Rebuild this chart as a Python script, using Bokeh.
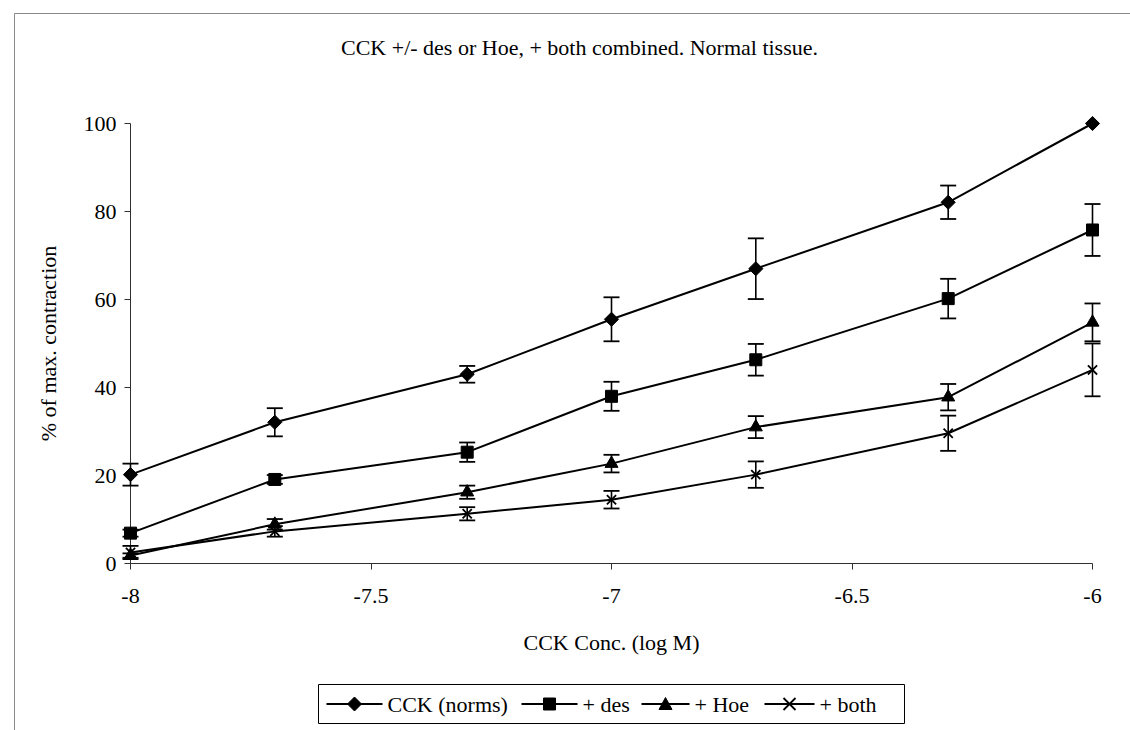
import numpy as np
from bokeh.plotting import figure
from bokeh.models import Range1d, FixedTicker, CustomJSTickFormatter
from bokeh.core.properties import value
from bokeh.embed import file_html
from bokeh.resources import INLINE

# ---- data ----
log_conc = [-8, -7.7, -7.3, -7, -6.7, -6.3, -6]
cck = [20.2, 32.1, 43.0, 55.5, 67.0, 82.1, 100.0]
cck_err = [2.5, 3.2, 1.9, 5.0, 6.9, 3.8, 0.0]
des = [6.9, 19.1, 25.3, 38.0, 46.3, 60.2, 75.8]
des_err = [0.8, 1.0, 2.2, 3.3, 3.6, 4.5, 5.9]
hoe = [1.8, 8.9, 16.2, 22.7, 31.0, 37.8, 54.8]
hoe_err = [0.5, 1.2, 1.5, 2.0, 2.5, 3.0, 4.3]
both = [2.5, 7.3, 11.3, 14.5, 20.2, 29.6, 44.0]
both_err = [1.5, 1.2, 1.5, 2.0, 3.0, 4.0, 6.0]

series_names = ["CCK (norms)", "+ des", "+ Hoe", "+ both"]
x_ticks = [-8, -7.5, -7, -6.5, -6]
y_ticks = [0, 20, 40, 60, 80, 100]

title_text = "CCK +/- des or Hoe, + both combined. Normal tissue."
x_label = "CCK Conc. (log M)"
y_label = "% of max. contraction"

FONT = "Liberation Serif"
FS = "22px"

# frame placement on the 1130x730 canvas
FL, FR, FT, FB = 130, 1092, 123, 563

p = figure(width=1130, height=730, output_backend="svg", toolbar_location=None,
           x_range=Range1d(-8, -6), y_range=Range1d(0, 100),
           min_border_left=FL, min_border_right=1130 - FR, min_border_top=FT,
           min_border_bottom=730 - FB, title=None)
p.outline_line_color = None
p.grid.visible = False
p.background_fill_color = "white"
p.border_fill_color = "white"

# pixel coordinate system (canvas pixels, y downward) for decorations outside the frame
p.extra_x_ranges = {"px": Range1d(FL, FR)}
p.extra_y_ranges = {"py": Range1d(FB, FT)}

for ax in (p.xaxis[0], p.yaxis[0]):
    ax.axis_line_color = "#303030"
    ax.axis_line_width = 1
    ax.major_tick_line_color = "#303030"
    ax.major_tick_out = 6
    ax.major_tick_in = 0
    ax.minor_tick_line_color = None
    ax.major_label_text_font = FONT
    ax.major_label_text_font_size = FS
    ax.major_label_text_color = "black"
    ax.axis_label_text_font = FONT
    ax.axis_label_text_font_size = FS
    ax.axis_label_text_font_style = "normal"
    ax.axis_label_text_color = "black"

p.xaxis.ticker = FixedTicker(ticks=x_ticks)
p.yaxis.ticker = FixedTicker(ticks=y_ticks)
p.xaxis.formatter = CustomJSTickFormatter(code="return tick.toString()")
p.yaxis.formatter = CustomJSTickFormatter(code="return tick.toString()")
p.xaxis.major_label_standoff = 19
p.yaxis.major_label_standoff = 8
p.xaxis.axis_label = x_label
p.yaxis.axis_label = y_label
p.xaxis.axis_label_standoff = 24
p.yaxis.axis_label_standoff = 20

markers = ["square", "square", "triangle", "x"]
angles = [np.pi / 4, 0, 0, 0]
sizes = [10, 12, 13, 13]
vals = [cck, des, hoe, both]
errs = [cck_err, des_err, hoe_err, both_err]

for name, mk, ang, sz, v, e in zip(series_names, markers, angles, sizes, vals, errs):
    # error bars
    ex, lo, hi = [], [], []
    for xi, yi, ei in zip(log_conc, v, e):
        if ei > 0:
            ex.append(xi); lo.append(yi - ei); hi.append(yi + ei)
    p.segment(x0=ex, y0=lo, x1=ex, y1=hi, line_color="black", line_width=1.6, level="overlay")
    p.scatter(x=ex + ex, y=lo + hi, marker="dash", size=16, line_color="black",
              line_width=1.8, level="overlay")
    # series line and markers
    p.line(log_conc, v, line_color="black", line_width=2, level="overlay")
    p.scatter(log_conc, v, marker=mk, angle=ang, size=sz, fill_color="black",
              line_color="black", line_width=1.8 if mk == "x" else 1, level="overlay")

PX = dict(x_range_name="px", y_range_name="py", level="overlay")

# ---- title (canvas pixels) ----
p.text(x=[579], y=[47], text=[title_text], text_font=value(FONT), text_font_size=FS,
       text_align="center", text_baseline="middle", text_color="black", **PX)

# ---- outer chart border (top and left visible) ----
p.line(x=[14, 14, 1130], y=[730, 13, 13], line_color="#8a8a8a", line_width=1, **PX)

# ---- legend box (canvas pixels) ----
LX0, LX1, LY0, LY1 = 318, 904, 684, 723
LYC = (LY0 + LY1) / 2
p.line(x=[LX0, LX1, LX1, LX0, LX0], y=[LY0, LY0, LY1, LY1, LY0],
       line_color="black", line_width=1, **PX)
glyph_x0 = [326, 521, 641, 764]
glyph_w = [56, 56, 48, 50]


def legend_marker(kind, cx, cy):
    if kind == "diamond":
        p.patch(x=[cx - 7, cx, cx + 7, cx], y=[cy, cy - 7, cy, cy + 7],
                fill_color="black", line_color="black", **PX)
    elif kind == "square":
        p.patch(x=[cx - 6, cx + 6, cx + 6, cx - 6], y=[cy - 6, cy - 6, cy + 6, cy + 6],
                fill_color="black", line_color="black", **PX)
    elif kind == "triangle":
        p.patch(x=[cx - 6.5, cx + 6.5, cx], y=[cy + 5.5, cy + 5.5, cy - 6.5],
                fill_color="black", line_color="black", **PX)
    else:
        p.line(x=[cx - 6, cx + 6], y=[cy - 6, cy + 6], line_color="black", line_width=1.8, **PX)
        p.line(x=[cx - 6, cx + 6], y=[cy + 6, cy - 6], line_color="black", line_width=1.8, **PX)


legend_kinds = ["diamond", "square", "triangle", "x"]
for name, kind, gx, gw in zip(series_names, legend_kinds, glyph_x0, glyph_w):
    p.line(x=[gx, gx + gw], y=[LYC, LYC], line_color="black", line_width=2, **PX)
    legend_marker(kind, gx + gw / 2, LYC)
    p.text(x=[gx + gw + 5], y=[LYC], text=[name], text_font=value(FONT), text_font_size=FS,
           text_align="left", text_baseline="middle", text_color="black", **PX)

open("out.html", "w").write(file_html(p, INLINE))
